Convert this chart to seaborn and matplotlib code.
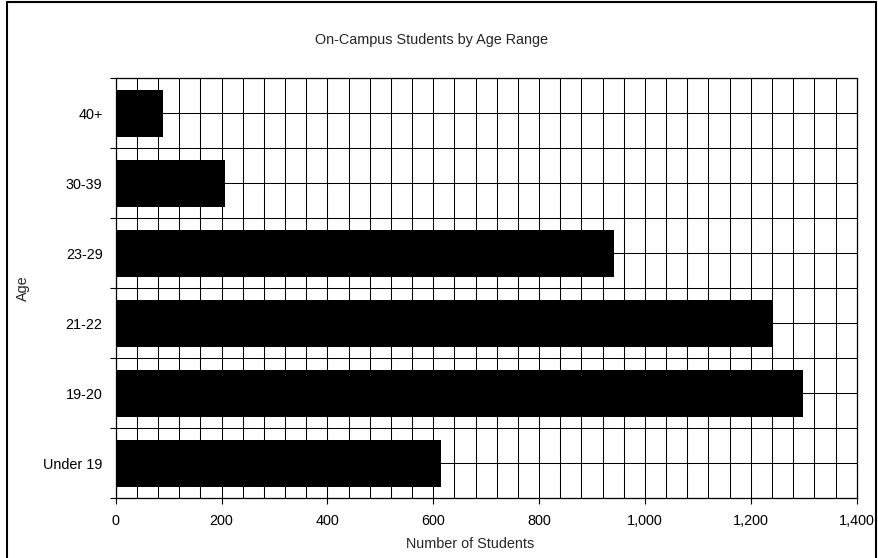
import numpy as np
import pandas as pd
import matplotlib
matplotlib.use("Agg")
import matplotlib.pyplot as plt
import seaborn as sns
from matplotlib.ticker import FuncFormatter, MultipleLocator, FixedLocator

categories = ["40+", "30-39", "23-29", "21-22", "19-20", "Under 19"]
students = [89, 207, 942, 1242, 1298, 615]
x_ticks = [0, 200, 400, 600, 800, 1000, 1200, 1400]

sns.set_theme(style="white")
plt.rcParams["font.family"] = ["Liberation Sans", "DejaVu Sans"]

df = pd.DataFrame({"Age": categories, "Students": students})

fig = plt.figure(figsize=(8.79, 5.58), dpi=100)
ax = fig.add_axes([115.7 / 879, 1 - 498.3 / 558, (856.7 - 115.7) / 879, (498.3 - 78.3) / 558])

sns.barplot(data=df, x="Students", y="Age", order=categories, orient="h",
            color="black", saturation=1, width=0.67, ax=ax, zorder=3,
            edgecolor="black", linewidth=0)

ax.set_xlim(0, 1400)
ax.set_ylim(5.5, -0.5)
ax.xaxis.set_major_locator(FixedLocator(x_ticks))
ax.xaxis.set_minor_locator(MultipleLocator(40))
ax.xaxis.set_major_formatter(FuncFormatter(lambda v, p: f"{int(v):,}"))
ax.yaxis.set_minor_locator(FixedLocator(np.arange(-0.5, 6.0, 1.0)))

ax.set_axisbelow(True)
ax.grid(True, which="both", axis="both", color="black", linewidth=0.75)
for s in ax.spines.values():
    s.set_color("black")
    s.set_linewidth(0.9)
    s.set_visible(True)

fs = 10.4
ax.tick_params(axis="y", which="major", length=0, pad=9.5, labelsize=fs, colors="black")
ax.tick_params(axis="y", which="minor", left=True, length=4, width=0.8, direction="out", color="black")
ax.tick_params(axis="x", which="major", bottom=True, length=4, width=0.8, direction="out", pad=7.5, labelsize=fs, colors="black")
ax.tick_params(axis="x", which="minor", length=0)

ax.set_xlabel("")
ax.set_ylabel("")
fig.text(470 / 879, 1 - 544 / 558, "Number of Students", ha="center", va="center", fontsize=fs)
fig.text(23 / 879, 1 - 288 / 558, "Age", ha="center", va="center", rotation=90, fontsize=fs)
fig.text(432 / 879, 1 - 40 / 558, "On-Campus Students by Age Range", ha="center", va="center", fontsize=fs)

# outer chart border
fig.add_artist(plt.Line2D([7 / 879, 7 / 879], [0, 1 - 1.5 / 558], transform=fig.transFigure, color="black", lw=1.5))
fig.add_artist(plt.Line2D([7 / 879, 876 / 879], [1 - 1.5 / 558, 1 - 1.5 / 558], transform=fig.transFigure, color="black", lw=1.5))
fig.add_artist(plt.Line2D([876 / 879, 876 / 879], [0, 1 - 1.5 / 558], transform=fig.transFigure, color="black", lw=1.5))

fig.savefig("out.png", dpi=100)
